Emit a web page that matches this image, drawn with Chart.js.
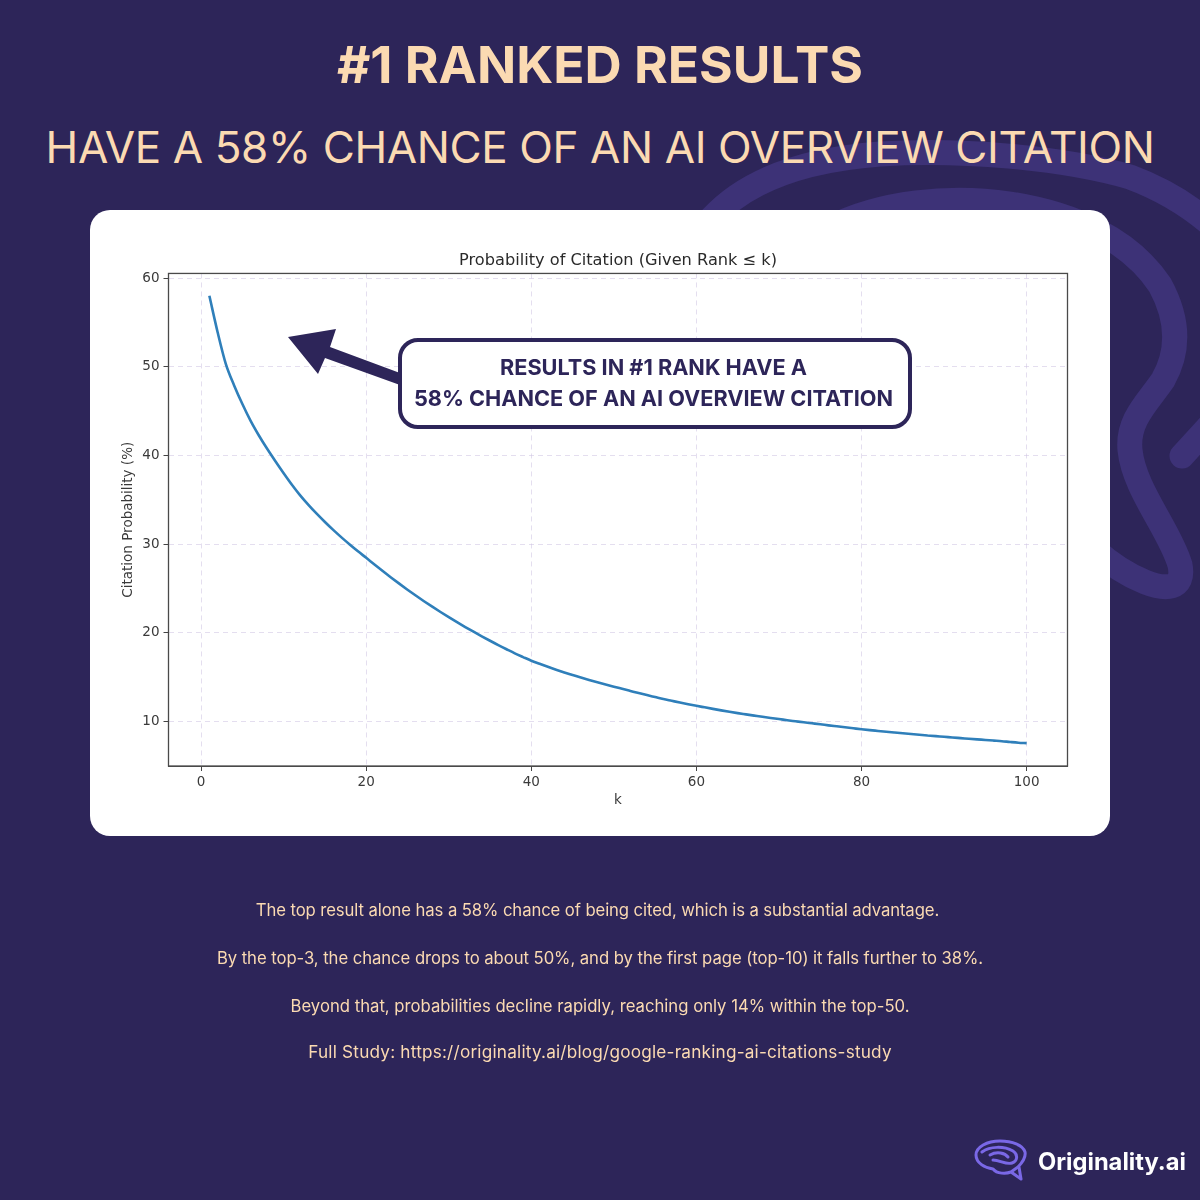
<!DOCTYPE html>
<html><head><meta charset="utf-8">
<script src="https://cdn.jsdelivr.net/npm/chart.js@4"></script>
<style>
html,body{margin:0;padding:0;background:#2d2559}
#page{position:relative;width:1200px;height:1200px;overflow:hidden;background:#2d2559;font-family:Inter,"Noto Sans",sans-serif}
#swirl{position:absolute;left:0;top:0}
#card{position:absolute;left:90px;top:210px;width:1020px;height:626px;background:#fff;border-radius:20px}
#c{position:absolute;left:120px;top:248px}
.t{position:absolute;left:0;width:1200px;text-align:center;color:#fbdab2;white-space:nowrap}
#h1{top:33px;font-size:51.5px;font-weight:700;line-height:62px;letter-spacing:0}
#h2{top:118px;font-size:44px;font-weight:400;line-height:58px;letter-spacing:-.4px}
.p{font-size:16.7px;line-height:24px}
#box{position:absolute;left:398px;top:338px;width:506px;height:83px;border:4px solid #2d2559;border-radius:20px;background:#fff;color:#2d2559;font-weight:700;font-size:21.7px;line-height:30.5px;text-align:center}
#box div{position:relative;top:10px;left:-1.5px}
#arrow{position:absolute;left:0;top:0}
#brand{position:absolute;left:1038px;top:1146px;color:#fff;font-weight:700;font-size:23.7px;line-height:32px;white-space:nowrap}
</style></head><body>
<div id="page">
<svg id="swirl" width="1200" height="1200" fill="none" stroke="#3d3277" stroke-width="25" stroke-linecap="round" stroke-linejoin="round">
<path d="M712 218C745 182 800 160 880 154C960 149 1060 157 1130 177C1165 190 1195 210 1215 228"/>
<path d="M830 228C880 202 950 195 1010 204C1075 214 1130 240 1160 285C1178 318 1180 350 1163 380C1148 402 1127 420 1130 450C1134 490 1170 530 1180 565C1185 590 1165 590 1145 582C1130 576 1115 568 1095 550"/>
<path d="M1182 456L1215 420"/>
</svg>
<div id="card"></div>
<div class="t" id="h1">#1 RANKED RESULTS</div>
<div class="t" id="h2">HAVE A 58% CHANCE OF AN AI OVERVIEW CITATION</div>
<canvas id="c" width="996" height="561"></canvas>
<svg id="arrow" width="1200" height="1200"><polygon fill="#2d2559" points="288,337 336,329 330,347 400,373 400,385 325,358 318,374"/></svg>
<div id="box"><div>RESULTS IN #1 RANK HAVE A<br>58% CHANCE OF AN AI OVERVIEW CITATION</div></div>
<div class="t p" style="top:898px;left:-2.5px;letter-spacing:-.1px">The top result alone has a 58% chance of being cited, which is a substantial advantage.</div>
<div class="t p" style="top:946px;letter-spacing:-.06px">By the top-3, the chance drops to about 50%, and by the first page (top-10) it falls further to 38%.</div>
<div class="t p" style="top:994px">Beyond that, probabilities decline rapidly, reaching only 14% within the top-50.</div>
<div class="t p" style="top:1040px;font-size:17.2px;letter-spacing:.2px">Full Study: https://originality.ai/blog/google-ranking-ai-citations-study</div>
<svg id="logo" style="position:absolute;left:0;top:0" width="1200" height="1200" fill="none" stroke="#7a68e6" stroke-width="3" stroke-linecap="round" stroke-linejoin="round">
<path d="M1021 1179L1011 1172L1018 1167C1023 1162 1026 1157 1025 1152C1023 1145 1012 1141 1000 1141C987 1141 976 1147 976 1155C976 1163 985 1168 993 1169C997 1174 1006 1174 1011 1172M1021 1179L1019 1167"/>
<path d="M982 1152C990 1146 1004 1146 1013 1151C1018 1154 1018 1161 1012 1163C1006 1165 1000 1160 993 1160"/>
<path d="M990 1155C997 1151 1005 1153 1008 1157"/>
</svg>
<div id="brand">Originality.ai</div>
</div>
<script>
const kValues=[1,2,3,4,5,6,7,8,9,10,11,12,13,14,15,16,17,18,19,20,21,22,23,24,25,26,27,28,29,30,31,32,33,34,35,36,37,38,39,40,41,42,43,44,45,46,47,48,49,50,51,52,53,54,55,56,57,58,59,60,61,62,63,64,65,66,67,68,69,70,71,72,73,74,75,76,77,78,79,80,81,82,83,84,85,86,87,88,89,90,91,92,93,94,95,96,97,98,99,100];
const citationProbability=[58,53.9,50.3,47.9,45.8,43.9,42.25,40.75,39.35,38,36.7,35.5,34.43,33.43,32.49,31.6,30.76,29.96,29.19,28.45,27.7,26.96,26.24,25.54,24.86,24.2,23.56,22.94,22.34,21.76,21.2,20.65,20.12,19.6,19.1,18.61,18.14,17.68,17.26,16.85,16.5,16.16,15.84,15.53,15.23,14.95,14.68,14.42,14.17,13.92,13.68,13.44,13.2,12.97,12.75,12.53,12.33,12.13,11.94,11.76,11.59,11.42,11.25,11.09,10.94,10.8,10.66,10.52,10.39,10.27,10.14,10.02,9.9,9.79,9.68,9.56,9.45,9.34,9.23,9.12,9.02,8.93,8.84,8.75,8.66,8.58,8.5,8.42,8.34,8.27,8.19,8.12,8.05,7.98,7.91,7.84,7.77,7.68,7.6,7.55];
const xTicks=[0,20,40,60,80,100];
const yTicks=[10,20,30,40,50,60];
const frame={id:'frame',afterDraw(ch){const a=ch.chartArea,g=ch.ctx;g.save();g.strokeStyle='#4a4a4a';g.lineWidth=1.3;g.strokeRect(a.left,a.top,a.right-a.left,a.bottom-a.top);g.restore();}};
const F="'DejaVu Sans'";
const gridCol='rgba(205,195,225,.55)';
new Chart(document.getElementById('c'),{
 type:'line',
 data:{datasets:[{data:kValues.map((k,i)=>({x:k,y:citationProbability[i]})),borderColor:'#2f7fba',borderWidth:2.6,pointRadius:0,cubicInterpolationMode:'monotone',fill:false}]},
 options:{responsive:false,animation:false,devicePixelRatio:1,
  layout:{padding:0},
  plugins:{legend:{display:false},tooltip:{enabled:false},
   title:{display:true,text:'Probability of Citation (Given Rank ≤ k)',color:'#2a2a2a',font:{family:F,size:16.2,weight:'normal'},padding:{top:3,bottom:3}}},
  scales:{
   x:{type:'linear',min:-3.95,max:104.95,afterBuildTicks(s){s.ticks=xTicks.map(v=>({value:v}));},
      afterFit(s){s.height=43;},
      grid:{color:gridCol,tickColor:'#444',tickLength:5},border:{display:true,color:'#4a4a4a',dash:[5,4]},
      ticks:{color:'#3a3a3a',font:{family:F,size:13.5},padding:3,maxRotation:0},
      title:{display:true,text:'k',color:'#3a3a3a',font:{family:F,size:13.5},padding:0}},
   y:{type:'linear',min:4.975,max:60.525,afterBuildTicks(s){s.ticks=yTicks.map(v=>({value:v}));},
      afterFit(s){s.width=48.5;},
      grid:{color:gridCol,tickColor:'#444',tickLength:5},border:{display:true,color:'#4a4a4a',dash:[5,4]},
      ticks:{color:'#3a3a3a',font:{family:F,size:13.5},padding:4},
      title:{display:true,text:'Citation Probability (%)',color:'#3a3a3a',font:{family:F,size:13.5},padding:0}},
   y2:{type:'linear',position:'right',display:true,min:0,max:1,afterFit(s){s.width=48.5;},
      grid:{display:false},border:{display:false},ticks:{display:false}}
  }},
 plugins:[frame]
});
</script>
</body></html>
